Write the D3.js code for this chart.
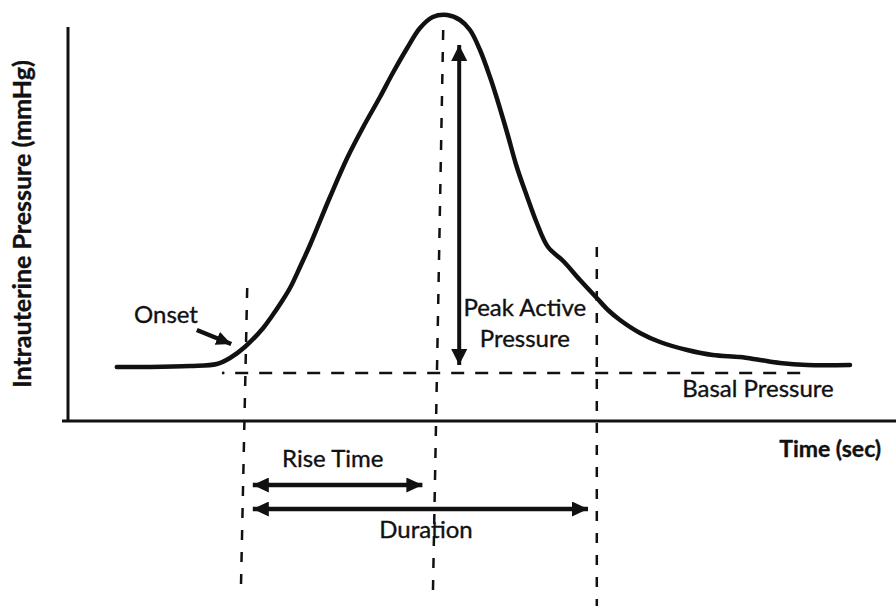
<!DOCTYPE html>
<html>
<head>
<meta charset="utf-8">
<script src="https://cdn.jsdelivr.net/npm/d3@7"></script>
<style>
  html, body { margin: 0; padding: 0; background: #fff; }
  svg { display: block; }
  text { font-family: Lato, "Open Sans", sans-serif; fill: #111; stroke: #111; stroke-width: 0.35px; }
</style>
</head>
<body>
<svg id="chart" width="896" height="608"></svg>
<script>
// ---- data (time in sec units, pressure in mmHg units, schematic) ----
const curveTime = [6.1, 10.25, 15.25, 18.6, 20.25, 22.1, 24.4, 25.5, 26.6, 27.75, 29, 30.25, 32.75, 34.9, 36.9, 39, 40.6, 42.4, 44, 45.6, 47.4, 49, 50.25, 51.5, 52.75, 53.6, 54.9, 56.1, 57.4, 58.6, 60, 61.9, 64, 66.1, 67.5, 69, 71.5, 74, 77.4, 80.6, 84, 86.5, 89, 92.4, 97.75];
const curvePressure = [13.5, 13.5, 13.75, 14.25, 15.75, 18.5, 23.25, 26.25, 29.5, 33.25, 38.5, 44, 56, 65.75, 73.5, 81, 87, 93.25, 98.25, 101, 101.5, 100.25, 97.75, 92.75, 86, 80.75, 72, 63.5, 56, 49.5, 43.5, 40, 35.25, 30.75, 27.75, 25.25, 22, 19.75, 17.75, 16.5, 16, 15.25, 14.5, 14, 14];

const basalPressure = 12;
const basalDotTime = 19.4;
const basalStart = 20.9, basalEnd = 92.5;
const peakArrowTime = 48.9, peakArrowTop = 94, peakArrowBottom = 14;

// vertical dashed markers: onset, peak, end of contraction
const markerNames = ["onset", "peak", "end"];
const markerTimeTop = [22.4, 46.9, 66.1];
const markerTimeBottom = [21.6, 45.6, 66.1];
const markerPressureTop = [33.25, 97.75, 43.5];
const markerPressureBottom = [-43.5, -44.75, -46.25];

const riseStart = 23.1, riseEnd = 44.3, riseLevel = -16;
const durStart = 23.1, durEnd = 65, durLevel = -22;

const xAxisLabel = "Time (sec)";
const yAxisLabel = "Intrauterine Pressure (mmHg)";

// ---- scales ----
const svg = d3.select("#chart");
const x = d3.scaleLinear().domain([0, 100]).range([68, 868]);
const y = d3.scaleLinear().domain([0, 100]).range([421, 21]);
const ink = "#111";

// arrow markers
const defs = svg.append("defs");
function arrowMarker(id, len, wid) {
  defs.append("marker")
    .attr("id", id)
    .attr("viewBox", `0 0 ${len} ${wid}`)
    .attr("refX", len).attr("refY", wid / 2)
    .attr("markerWidth", len).attr("markerHeight", wid)
    .attr("markerUnits", "userSpaceOnUse")
    .attr("orient", "auto-start-reverse")
    .append("path")
    .attr("d", `M0,0L${len},${wid / 2}L0,${wid}Z`)
    .attr("fill", ink);
}
arrowMarker("headBig", 16, 16);
arrowMarker("headH", 16, 15);
arrowMarker("headSmall", 15, 14);

// axes (plain lines, no ticks)
svg.append("line")
  .attr("x1", x(-0.75)).attr("x2", x(103.5))
  .attr("y1", y(0)).attr("y2", y(0))
  .attr("stroke", ink).attr("stroke-width", 3);
svg.append("line")
  .attr("x1", x(0)).attr("x2", x(0))
  .attr("y1", y(-0.25)).attr("y2", y(98.5))
  .attr("stroke", ink).attr("stroke-width", 3);

// basal pressure dashed line
svg.append("circle")
  .attr("cx", x(basalDotTime)).attr("cy", y(basalPressure))
  .attr("r", 1.4).attr("fill", ink);
svg.append("line")
  .attr("x1", x(basalStart)).attr("x2", x(basalEnd))
  .attr("y1", y(basalPressure)).attr("y2", y(basalPressure))
  .attr("stroke", ink).attr("stroke-width", 2.5)
  .attr("stroke-dasharray", "13,11");

// vertical dashed markers
svg.selectAll("line.marker")
  .data(markerNames)
  .join("line")
  .attr("class", "marker")
  .attr("x1", (d, i) => x(markerTimeTop[i]))
  .attr("x2", (d, i) => x(markerTimeBottom[i]))
  .attr("y1", (d, i) => y(markerPressureTop[i]))
  .attr("y2", (d, i) => y(markerPressureBottom[i]))
  .attr("stroke", ink).attr("stroke-width", 2.5)
  .attr("stroke-dasharray", "10,12");

// pressure curve
const pts = curveTime.map((t, i) => [t, curvePressure[i]]);
svg.append("path")
  .datum(pts)
  .attr("d", d3.line().x(d => x(d[0])).y(d => y(d[1])).curve(d3.curveCatmullRom.alpha(0.5)))
  .attr("fill", "none")
  .attr("stroke", ink)
  .attr("stroke-width", 4.5)
  .attr("stroke-linecap", "round")
  .attr("stroke-linejoin", "round");

// peak active pressure double arrow
svg.append("line")
  .attr("x1", x(peakArrowTime)).attr("x2", x(peakArrowTime))
  .attr("y1", y(peakArrowTop)).attr("y2", y(peakArrowBottom))
  .attr("stroke", ink).attr("stroke-width", 4)
  .attr("marker-start", "url(#headBig)")
  .attr("marker-end", "url(#headBig)");

// rise time & duration arrows
[[riseStart, riseEnd, riseLevel], [durStart, durEnd, durLevel]].forEach(([a, b, lv]) => {
  svg.append("line")
    .attr("x1", x(a)).attr("x2", x(b))
    .attr("y1", y(lv)).attr("y2", y(lv))
    .attr("stroke", ink).attr("stroke-width", 4.5)
    .attr("marker-start", "url(#headH)")
    .attr("marker-end", "url(#headH)");
});

// onset arrow
svg.append("line")
  .attr("x1", x(16.1)).attr("x2", x(20.4))
  .attr("y1", y(22.75)).attr("y2", y(19.25))
  .attr("stroke", ink).attr("stroke-width", 4.5)
  .attr("marker-end", "url(#headSmall)");

// texts
function label(txt, tx, py, size, weight, anchor) {
  return svg.append("text")
    .attr("x", tx).attr("y", py)
    .attr("font-size", size)
    .attr("font-weight", weight || 400)
    .attr("text-anchor", anchor || "middle")
    .text(txt);
}
label("Onset", x(12.25), y(24.5), 24);
label("Peak Active", x(57.1), y(26.25), 24);
label("Pressure", x(57.1), y(18.5), 24);
label("Basal Pressure", x(86.25), y(6), 24);
label("Rise Time", x(33.1), y(-11.5), 24);
label("Duration", x(44.75), y(-29.25), 24);
label(xAxisLabel, x(88.9), y(-9), 23, 700, "start");

svg.append("text")
  .attr("transform", `translate(31, ${y(49.25)}) rotate(-90)`)
  .attr("font-size", 25)
  .attr("font-weight", 700)
  .attr("text-anchor", "middle")
  .text(yAxisLabel);
</script>
</body>
</html>
